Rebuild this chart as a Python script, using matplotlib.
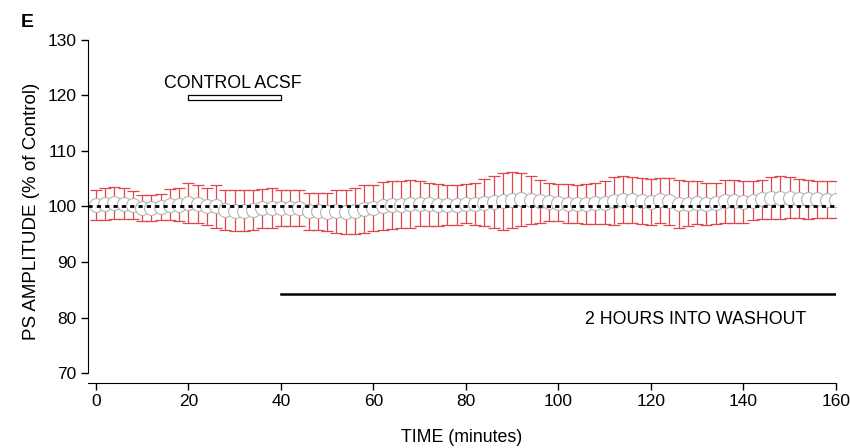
import numpy as np
import matplotlib.pyplot as plt

plt.rcParams['font.family'] = ['Liberation Sans', 'DejaVu Sans']

# time points (minutes) and PS amplitude mean +/- SEM (% of control)
time_min = list(range(0, 161, 2))
amp_mean = [100.3, 100.4, 100.6, 100.5, 100.2, 99.7, 99.7, 99.9, 100.3, 100.3,
            100.7, 100.5, 100.0, 100.0, 99.4, 99.2, 99.2, 99.4, 99.7, 99.8,
            99.7, 99.7, 99.7, 99.1, 99.1, 99.0, 99.1, 99.0, 99.2, 99.5,
            99.7, 100.1, 100.2, 100.3, 100.4, 100.5, 100.4, 100.3, 100.3, 100.3,
            100.5, 100.5, 100.7, 100.8, 100.9, 101.2, 101.3, 101.1, 100.9, 100.8,
            100.7, 100.5, 100.5, 100.4, 100.6, 100.7, 101.0, 101.2, 101.2, 101.0,
            100.8, 101.1, 100.9, 100.5, 100.5, 100.7, 100.5, 100.6, 100.9, 100.9,
            100.8, 101.0, 101.3, 101.5, 101.6, 101.6, 101.4, 101.3, 101.3, 101.2,
            101.2]
amp_sem = [2.7, 2.9, 2.9, 2.8, 2.5, 2.4, 2.4, 2.4, 2.8, 3.0,
           3.6, 3.4, 3.3, 3.8, 3.6, 3.7, 3.7, 3.6, 3.5, 3.6,
           3.3, 3.3, 3.3, 3.3, 3.3, 3.5, 3.8, 4.0, 4.2, 4.3,
           4.2, 4.3, 4.3, 4.2, 4.3, 4.1, 3.9, 3.8, 3.6, 3.6,
           3.5, 3.8, 4.2, 4.6, 5.1, 5.0, 4.8, 4.3, 3.8, 3.5,
           3.3, 3.5, 3.4, 3.6, 3.7, 3.9, 4.3, 4.2, 4.1, 4.2,
           4.2, 4.1, 4.2, 4.3, 4.1, 3.9, 3.8, 3.7, 3.8, 3.8,
           3.8, 3.5, 3.5, 3.8, 3.8, 3.7, 3.5, 3.5, 3.3, 3.3,
           3.3]

baseline = 100
control_period = [20, 40]
washout_period = [40, 160]

fig = plt.figure(figsize=(8.5, 4.48), dpi=100)
ax = fig.add_axes([0.1035, 0.145, 0.88, 0.766])

ax.errorbar(time_min, amp_mean, yerr=amp_sem, fmt='none', ecolor='#e0474c',
            elinewidth=0.9, capsize=4.2, capthick=0.9, zorder=2)
ax.plot(time_min, amp_mean, 'o', ms=10, mfc='white', mec='#b5b5b5', mew=0.8, zorder=3)
ax.axhline(baseline, color='black', lw=2, ls=(0, (1.5, 1.5)), zorder=4)

# control ACSF bar
ax.add_patch(plt.Rectangle((control_period[0], 119.2), control_period[1] - control_period[0], 0.8,
                           fill=False, ec='black', lw=0.9, clip_on=False))
ax.text(29.7, 122.2, 'CONTROL ACSF', ha='center', va='center', fontsize=12.8)

# washout line
ax.plot(washout_period, [84.3, 84.3], color='black', lw=1.8)
ax.text(153.5, 79.6, '2 HOURS INTO WASHOUT', ha='right', va='center', fontsize=12.8)

ax.set_xlim(-1.7, 160)
ax.set_ylim(68.2, 130)
ax.set_xticks(range(0, 161, 20))
ax.set_yticks(range(70, 131, 10))
ax.spines['top'].set_visible(False)
ax.spines['right'].set_visible(False)
ax.spines['left'].set_bounds(70, 130)
ax.tick_params(direction='out', length=5, width=1, labelsize=12.5, pad=3)
ax.set_xlabel('TIME (minutes)', fontsize=12.8, labelpad=14)
ax.set_ylabel('PS AMPLITUDE (% of Control)', fontsize=13.5, labelpad=6)

fig.text(0.024, 0.95, 'E', fontsize=14, fontweight='bold', va='center')

fig.savefig('out.png', dpi=100)
